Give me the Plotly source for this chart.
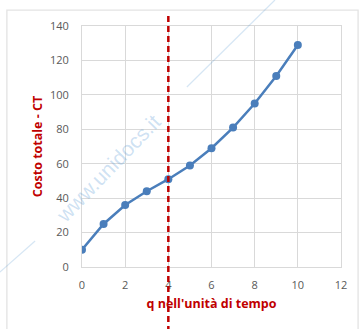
import plotly.graph_objects as go

# Costo totale in funzione della quantità prodotta
q = [0, 1, 2, 3, 4, 5, 6, 7, 8, 9, 10]
ct = [10, 25, 36, 44, 51, 59, 69, 81, 95, 111, 129]
q_marker = 4

x_ticks = [0, 2, 4, 6, 8, 10, 12]
y_ticks = [0, 20, 40, 60, 80, 100, 120, 140]

blue = "#4A7EBB"
red = "#C00000"
grid = "#D9D9D9"
font = "Open Sans, Liberation Sans, sans-serif"

fig = go.Figure()
fig.add_trace(go.Scatter(
    x=q, y=ct, mode="lines+markers",
    line=dict(color=blue, width=2.5),
    marker=dict(color=blue, size=8),
    showlegend=False,
))

# vertical dashed reference at q = 4
fig.add_shape(type="line", xref="x", yref="paper",
              x0=q_marker, x1=q_marker, y0=-0.27, y1=1.05,
              line=dict(color=red, width=2.5, dash="6px,4px"))

# outer chart border
fig.add_shape(type="rect", xref="paper", yref="paper",
              x0=-0.29, x1=1.066, y0=-0.3, y1=1.066,
              line=dict(color="#E3E3E3", width=1.3), layer="below")

# watermark
wm = "rgba(91,155,213,0.30)"
fig.add_annotation(text="www.unidocs.it", xref="paper", yref="paper",
                   x=0.10, y=0.41, xanchor="center", yanchor="middle",
                   showarrow=False, textangle=-46,
                   font=dict(family="Liberation Sans, Arial, sans-serif",
                             size=21, color=wm))
fig.add_shape(type="line", xref="paper", yref="paper",
              x0=-0.317, y0=-0.021, x1=-0.181, y1=0.108,
              line=dict(color="rgba(91,155,213,0.25)", width=1.2))
fig.add_shape(type="line", xref="paper", yref="paper",
              x0=0.405, y0=0.747, x1=0.745, y1=1.108,
              line=dict(color="rgba(91,155,213,0.25)", width=1.2))

fig.update_xaxes(
    range=[0, 12], tickvals=x_ticks, showgrid=True, gridcolor=grid, gridwidth=1,
    showline=True, linecolor=grid, mirror=True, zeroline=False,
    tickfont=dict(family=font, size=11, color="#595959"), ticks="",
    ticklabelstandoff=8,
    title=dict(text="q nell'unità di tempo", standoff=8,
               font=dict(family=font, size=12.5, color=red, weight="bold")),
)
fig.update_yaxes(
    range=[0, 140], tickvals=y_ticks, showgrid=True, gridcolor=grid, gridwidth=1,
    showline=True, linecolor=grid, mirror=True, zeroline=False,
    tickfont=dict(family=font, size=11, color="#595959"), ticks="",
    ticklabelstandoff=10,
    title=dict(text="Costo totale - CT", standoff=4,
               font=dict(family=font, size=12.5, color=red, weight="bold")),
)

fig.update_layout(
    width=359, height=329,
    margin=dict(l=82, r=18, t=26, b=62),
    paper_bgcolor="white", plot_bgcolor="white",
)

fig.write_html("out.html")
